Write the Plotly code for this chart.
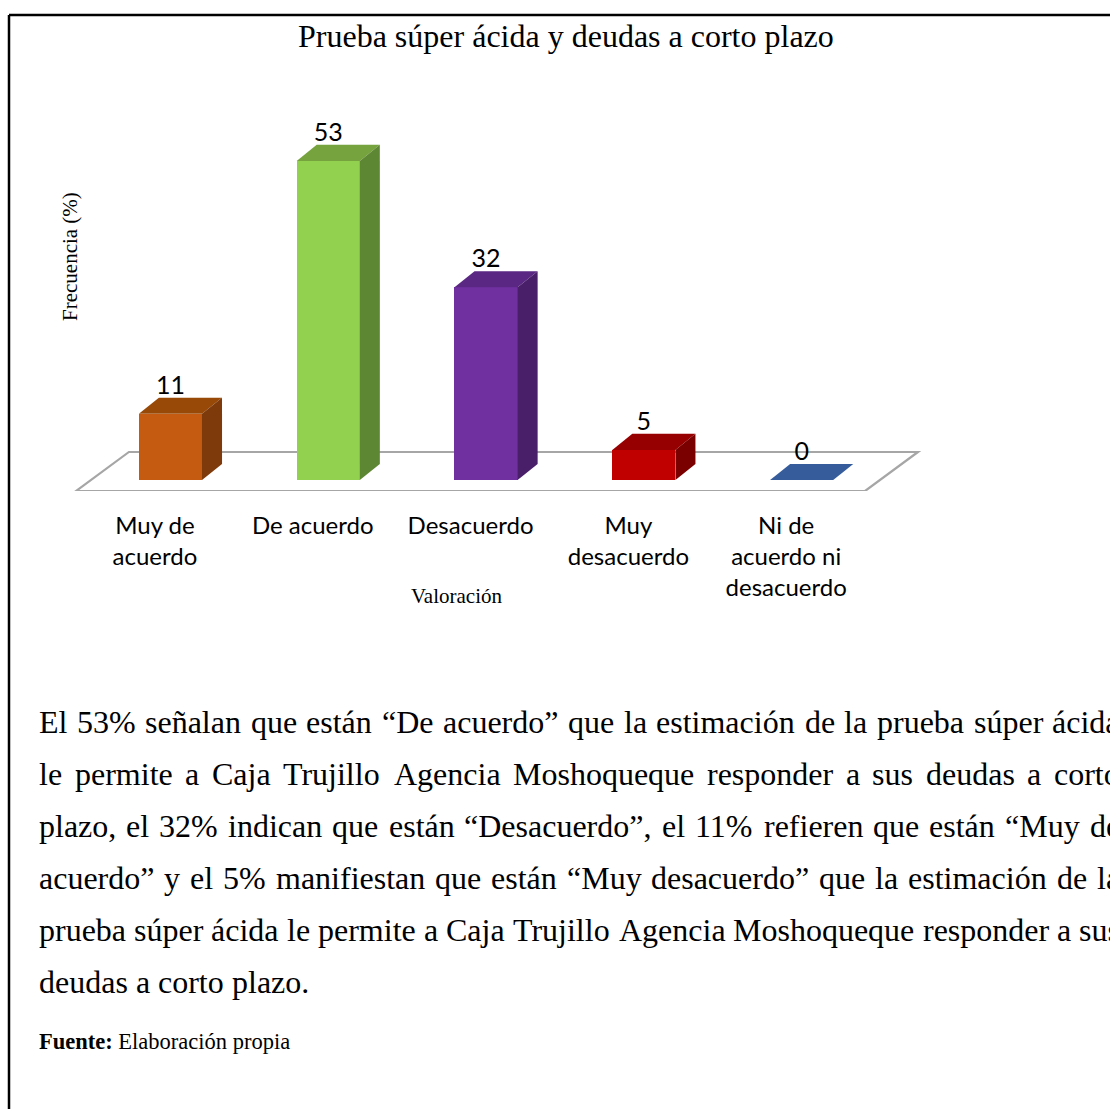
import plotly.graph_objects as go

# ---------------- data ----------------
categories = ["Muy de acuerdo", "De acuerdo", "Desacuerdo", "Muy desacuerdo",
              "Ni de acuerdo ni desacuerdo"]
tick_labels = ["Muy de<br>acuerdo", "De acuerdo", "Desacuerdo", "Muy<br>desacuerdo",
               "Ni de<br>acuerdo ni<br>desacuerdo"]
values = [11, 53, 32, 5, 0]

front_colors = ["#C55A11", "#92D050", "#7030A0", "#C00000", "#2F5597"]
top_colors = ["#984807", "#76A33E", "#5A2782", "#960000", "#365C9C"]
side_colors = ["#7E3A0B", "#5E8733", "#4A1F6A", "#7A0000", "#2A4A80"]

title = "Prueba súper ácida y deudas a corto plazo"
y_title = "Frecuencia (%)"
x_title = "Valoración"
paragraph = [
    "El 53% señalan que están “De acuerdo” que la estimación de la prueba súper ácida",
    "le permite a Caja Trujillo Agencia Moshoqueque responder a sus deudas a corto",
    "plazo, el 32% indican que están “Desacuerdo”, el 11% refieren que están “Muy de",
    "acuerdo” y el 5% manifiestan que están “Muy desacuerdo” que la estimación de la",
    "prueba súper ácida le permite a Caja Trujillo Agencia Moshoqueque responder a sus",
    "deudas a corto plazo.",
]
source = "<b>Fuente:</b> Elaboración propia"

# ---------------- geometry (in axis units) ----------------
W, H = 1110, 1109
PLOT_TOP, PLOT_BOTTOM = 23, 491
XR = [-0.982, 6.052]
YR = [-1.83, 75.9]
BAR_OFF = 0.098      # front face shift (depth position)
BAR_W = 0.40
DX, DY = 0.127, 2.66  # bar depth vector
FLOOR_DX, FLOOR_DY = 0.335, 6.48
FLOOR_Y0 = YR[0]


def px_x(px):
    return px / W


def px_y(py):
    return (PLOT_BOTTOM - py) / (PLOT_BOTTOM - PLOT_TOP)


fig = go.Figure()

n = len(values)
xs = [i + BAR_OFF for i in range(n)]

# front faces
fig.add_trace(go.Bar(
    x=xs, y=values, width=BAR_W, base=0,
    marker=dict(color=front_colors, line=dict(width=0)),
    hoverinfo="skip", showlegend=False,
))

# top & side faces
for i, v in enumerate(values):
    x0 = xs[i] - BAR_W / 2
    x1 = xs[i] + BAR_W / 2
    fig.add_trace(go.Scatter(
        x=[x0, x1, x1 + DX, x0 + DX, x0],
        y=[v, v, v + DY, v + DY, v],
        fill="toself", fillcolor=top_colors[i], mode="lines",
        line=dict(width=0, color=top_colors[i]),
        hoverinfo="skip", showlegend=False,
    ))
    if v > 0:
        fig.add_trace(go.Scatter(
            x=[x1, x1 + DX, x1 + DX, x1, x1],
            y=[0, DY, v + DY, v, 0],
            fill="toself", fillcolor=side_colors[i], mode="lines",
            line=dict(width=0, color=side_colors[i]),
            hoverinfo="skip", showlegend=False,
        ))

# data labels
fig.add_trace(go.Scatter(
    x=xs, y=[v + 4.4 for v in values], mode="text",
    text=[str(v) for v in values], textposition="middle center",
    textfont=dict(family="Lato", size=25, color="#000000"),
    cliponaxis=False, hoverinfo="skip", showlegend=False,
))

# floor
fx0, fx1 = -0.5, n - 0.5
floor_path = (f"M {fx0},{FLOOR_Y0} L {fx1},{FLOOR_Y0} "
              f"L {fx1 + FLOOR_DX},{FLOOR_Y0 + FLOOR_DY} "
              f"L {fx0 + FLOOR_DX},{FLOOR_Y0 + FLOOR_DY} Z")
shapes = [
    dict(type="path", path=floor_path, xref="x", yref="y", layer="below",
         line=dict(color="#A6A6A6", width=2.2), fillcolor="rgba(0,0,0,0)"),
    # document frame
    dict(type="line", xref="paper", yref="paper",
         x0=px_x(9), x1=px_x(W + 5), y0=px_y(15), y1=px_y(15),
         line=dict(color="#000000", width=2.5)),
    dict(type="line", xref="paper", yref="paper",
         x0=px_x(9), x1=px_x(9), y0=px_y(15), y1=px_y(H + 5),
         line=dict(color="#000000", width=2.5)),
]

annotations = [
    dict(text=title, xref="paper", yref="paper", x=px_x(566), y=px_y(36),
         xanchor="center", yanchor="middle", showarrow=False,
         font=dict(family="Liberation Serif", size=32, color="#000000")),
    dict(text=y_title, xref="paper", yref="paper", x=px_x(70), y=px_y(257),
         xanchor="center", yanchor="middle", showarrow=False, textangle=-90,
         font=dict(family="Liberation Serif", size=21, color="#000000")),
    dict(text=x_title, xref="paper", yref="paper", x=px_x(456), y=px_y(596),
         xanchor="center", yanchor="middle", showarrow=False,
         font=dict(family="Liberation Serif", size=21, color="#000000")),
    dict(text=source, xref="paper", yref="paper", x=px_x(37), y=px_y(1041),
         xanchor="left", yanchor="middle", showarrow=False,
         font=dict(family="Liberation Serif", size=22.5, color="#000000")),
]

# justified paragraph (Times-compatible advance widths, per 1000 em)
TW = {" ": 250, "%": 833, ",": 250, ".": 250, ":": 278, "“": 444, "”": 444}
TW.update({d: 500 for d in "0123456789"})
TW.update(dict(zip("ABCDEFGHIJKLMNOPQRSTUVWXYZ",
                   [722, 667, 667, 722, 611, 556, 722, 722, 333, 389, 722, 611, 889,
                    722, 722, 556, 722, 667, 556, 611, 722, 722, 944, 722, 722, 611])))
TW.update(dict(zip("abcdefghijklmnopqrstuvwxyz",
                   [444, 500, 444, 500, 444, 333, 500, 500, 278, 278, 500, 278, 778,
                    500, 500, 500, 500, 333, 389, 278, 500, 500, 722, 500, 500, 444])))
TW.update({"á": 444, "é": 444, "í": 278, "ó": 500, "ú": 500, "ñ": 500})

PFS = 32
LEFT, RIGHT = 37, 1118


def text_w(s):
    return sum(TW.get(c, 500) for c in s) * PFS / 1000.0


line_y = [722, 774, 826, 878, 930, 982]
for li, (txt, yy) in enumerate(zip(paragraph, line_y)):
    words = txt.split(" ")
    last = li == len(paragraph) - 1
    if last or len(words) < 2:
        gap = text_w(" ")
    else:
        gap = (RIGHT - LEFT - sum(text_w(w) for w in words)) / (len(words) - 1)
    x = LEFT
    for w in words:
        annotations.append(dict(
            text=w, xref="paper", yref="paper", x=px_x(x), y=px_y(yy),
            xanchor="left", yanchor="middle", showarrow=False,
            font=dict(family="Liberation Serif", size=PFS, color="#000000")))
        x += text_w(w) + gap

fig.update_layout(
    width=W, height=H,
    margin=dict(l=0, r=0, t=PLOT_TOP, b=H - PLOT_BOTTOM, pad=0),
    paper_bgcolor="#FFFFFF", plot_bgcolor="rgba(0,0,0,0)",
    shapes=shapes, annotations=annotations, bargap=0,
    xaxis=dict(range=XR, showgrid=False, zeroline=False, showline=False,
               tickmode="array", tickvals=list(range(n)), ticktext=tick_labels,
               ticks="", ticklabelstandoff=18,
               tickfont=dict(family="Lato", size=24, color="#000000"),
               fixedrange=True),
    yaxis=dict(range=YR, showgrid=False, zeroline=False, showline=False,
               showticklabels=False, ticks="", fixedrange=True),
)

fig.write_html("out.html")
